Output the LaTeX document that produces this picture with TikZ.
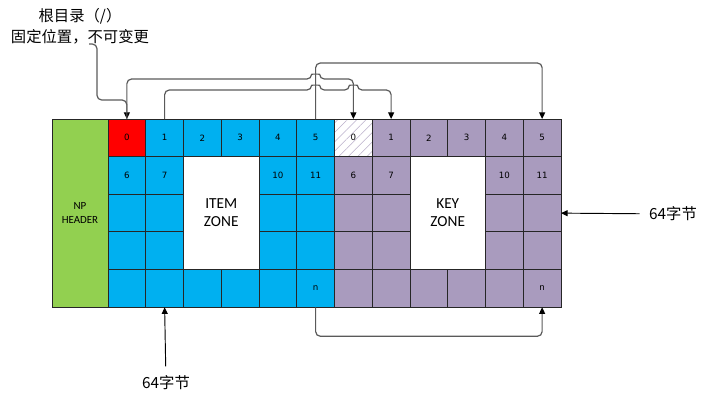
\documentclass[tikz,border=0pt]{standalone}
\usepackage{fontspec}
\setmainfont{Carlito}
\newfontfamily\cjk{Noto Sans CJK SC}
\newfontfamily\numfont{DejaVu Sans}
\usetikzlibrary{calc,arrows.meta,patterns.meta}
\definecolor{hdrgreen}{HTML}{92D050}
\definecolor{itemblue}{HTML}{00B0F0}
\definecolor{keypurple}{HTML}{A99BBE}
\definecolor{linkgray}{HTML}{5A5A5A}
\tikzset{
  cell/.style={draw=black!85, line width=0.7pt, minimum width=28.3125pt, minimum height=28.2375pt, inner sep=0pt, outer sep=0pt, font=\numfont\fontsize{6.5}{7}\selectfont},
  bcell/.style={cell, fill=itemblue},
  pcell/.style={cell, fill=keypurple},
  zone/.style={cell, fill=white, minimum width=56.625pt, minimum height=84.7125pt, align=center, font=\fontsize{11.5}{13.5}\selectfont},
  link/.style={draw=linkgray, line width=0.9pt, rounded corners=3.5pt, -{Triangle[length=5pt,width=4.5pt,color=black]}},
  sizearrow/.style={draw=black, line width=0.7pt, -{Triangle[length=5pt,width=4.5pt]}},
  note/.style={font=\cjk\fontsize{11.5}{16}\selectfont, align=center, inner sep=0pt},
}
\begin{document}
\begin{tikzpicture}[x=0.75pt,y=-0.75pt]
	\useasboundingbox (0,0) rectangle (707,401);
	
	\node[draw=black!85, line width=0.7pt, fill=hdrgreen, minimum width=42pt, minimum height=141.1875pt, inner sep=0pt, align=center, font=\fontsize{8.2}{10}\selectfont] (HDR) at (80,213.1) {NP\\HEADER};
	
	% two blocks of cells
	\foreach \b/\sty/\off/\zn in {I/bcell/0/ITEM, K/pcell/226.5/KEY}{
		\begin{scope}[shift={(\off,0)}]
			\foreach \c in {1,...,6}
				\node[\sty] (\b1-\c) at ({108+37.75*(\c-0.5)},137.825) {\the\numexpr\c-1\relax};
			\foreach \c in {1,2,5,6}
				\node[\sty] (\b2-\c) at ({108+37.75*(\c-0.5)},175.475) {\the\numexpr\c+5\relax};
			\foreach \r/\y in {3/213.125,4/250.775}
				\foreach \c in {1,2,5,6}
					\node[\sty] (\b\r-\c) at ({108+37.75*(\c-0.5)},\y) {};
			\foreach \c in {1,...,5}
				\node[\sty] (\b5-\c) at ({108+37.75*(\c-0.5)},288.425) {};
			\node[\sty] (\b5-6) at ({108+37.75*5.5},288.425) {n};
			\node[zone] (\b ZONE) at (221.25,213.125) {\zn\\ZONE};
		\end{scope}
	}
	
	\node[cell, fill=red] (ROOT) at (I1-1) {0};
	\node[cell, preaction={fill=white}, pattern={Lines[angle=45,distance=5pt,line width=0.4pt]}, pattern color=keypurple!80] (FREE) at (K1-1) {0};
	
	% labels
	\node[note] (NOTE) at (80,26) {根目录（/）\\固定位置，不可变更};
	\coordinate (NOTEEND) at (89,44);
	\node[note] (SIZER) at (673,214) {64字节};
	\node[note] (SIZEB) at (166,383) {64字节};
	
	% links
	\draw[link] (NOTEEND) -| ++(8,56) -| (ROOT.north);
	\draw[link] (I1-6.north) -- ++(0,-56) -| (K1-6.north);
	\draw[link] (ROOT.north) -- ++(0,-40) coordinate (LB)
		-- ($(LB -| I1-6.north)+(-4,0)$) .. controls +(0,-5) and +(0,-5) .. ($(LB -| I1-6.north)+(4,0)$)
		-| (FREE.north);
	\draw[link] (I1-2.north) -- ++(0,-29) coordinate (LC)
		-- ($(LC -| I1-6.north)+(-4,0)$) .. controls +(0,-5) and +(0,-5) .. ($(LC -| I1-6.north)+(4,0)$)
		-- ($(LC -| FREE.north)+(-4,0)$) .. controls +(0,-5) and +(0,-5) .. ($(LC -| FREE.north)+(4,0)$)
		-| (K1-2.north);
	\draw[link] (I5-6.south) -- ++(0,29) -| (K5-6.south);
	
	\draw[sizearrow, shorten <=7pt] (SIZER) -- (K3-6.east);
	\draw[sizearrow, shorten <=7pt] (SIZEB) -- (I5-2.south);
\end{tikzpicture}
\end{document}
